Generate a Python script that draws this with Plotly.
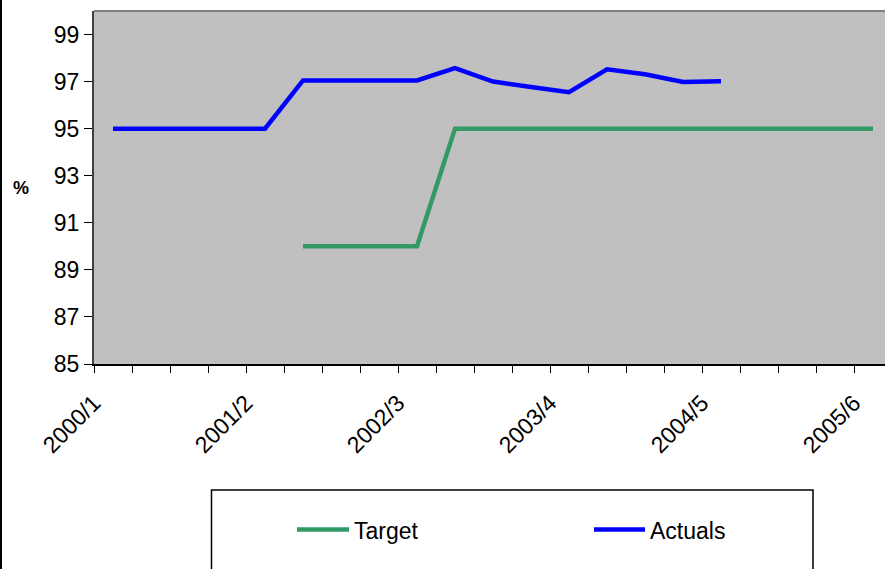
import plotly.graph_objects as go

# Category slots along the x axis (one per period), labelled every 4th slot
n_slots = 21
label_every = 4
tick_labels = ["2000/1", "2001/2", "2002/3", "2003/4", "2004/5", "2005/6"]

# Series values (percent), None where no value is recorded
actuals = [95, 95, 95, 95, 95, 97.05, 97.05, 97.05, 97.05, 97.57,
           97.0, 96.77, 96.55, 97.52, 97.31, 96.98, 97.01]
target = [None, None, None, None, None, 90, 90, 90, 90,
          95, 95, 95, 95, 95, 95, 95, 95, 95, 95, 95, 95]

y_ticks = [85, 87, 89, 91, 93, 95, 97, 99]

W, H = 885, 569
ML, MT, MB = 94, 11, 205
PW = W - ML
PH = H - MT - MB
SLOT = 38.0
FONT = "Arial, Liberation Sans, sans-serif"
LABEL_SHIFT = -0.5  # rotated labels end slightly left of the slot centre


def px(x):
    return (x - ML) / PW


def py(y):
    return (H - MB - y) / PH


x_hi = PW / SLOT - 0.5
slots = list(range(n_slots))

fig = go.Figure()
fig.add_trace(go.Scatter(x=slots[:len(target)], y=target, mode="lines",
                         name="Target", line=dict(color="#339966", width=4.5),
                         connectgaps=False, showlegend=False))
fig.add_trace(go.Scatter(x=slots[:len(actuals)], y=actuals, mode="lines",
                         name="Actuals", line=dict(color="#0000FF", width=4.5),
                         showlegend=False))
# invisible trace that carries the labelled axis
fig.add_trace(go.Scatter(x=[0], y=[None], xaxis="x2", showlegend=False,
                         hoverinfo="skip"))

label_pos = [i * label_every + LABEL_SHIFT for i in range(len(tick_labels))]

fig.update_layout(
    width=W, height=H,
    margin=dict(l=ML, r=0, t=MT, b=MB, pad=0),
    paper_bgcolor="white",
    plot_bgcolor="#C0C0C0",
    font=dict(family=FONT, size=23, color="black"),
    xaxis=dict(range=[-0.5, x_hi], showgrid=False, zeroline=False,
               tickmode="array", tickvals=[k - 0.5 for k in range(n_slots + 1)],
               ticks="outside", ticklen=7, tickcolor="black", tickwidth=1,
               showticklabels=False, showline=True, linecolor="black",
               linewidth=1.5),
    xaxis2=dict(range=[-0.5, x_hi], overlaying="x", side="bottom",
                anchor="y", showgrid=False, zeroline=False,
                tickmode="array", tickvals=label_pos, ticktext=tick_labels,
                ticks="", tickangle=-45, ticklabelstandoff=20,
                tickfont=dict(family=FONT, size=23), showline=False),
    yaxis=dict(range=[85, 100], showgrid=False, zeroline=False,
               tickmode="array", tickvals=y_ticks,
               ticks="outside", ticklen=8, tickcolor="black", tickwidth=1,
               showline=True, linecolor="#404040", linewidth=2,
               tickfont=dict(family=FONT, size=23)),
    showlegend=False,
)

shapes = [
    # plot area top border
    dict(type="line", xref="paper", yref="paper", x0=0, x1=1.02, y0=1, y1=1,
         line=dict(color="#808080", width=2)),
    # chart area left border
    dict(type="line", xref="paper", yref="paper", x0=px(1), x1=px(1),
         y0=py(0), y1=py(H), line=dict(color="black", width=2)),
    # legend frame
    dict(type="rect", xref="paper", yref="paper", x0=px(211.5), x1=px(813),
         y0=py(490), y1=py(H + 5), line=dict(color="black", width=1.5),
         fillcolor="white"),
    # legend swatches
    dict(type="line", xref="paper", yref="paper", x0=px(297), x1=px(349),
         y0=py(529.5), y1=py(529.5), line=dict(color="#339966", width=4.5)),
    dict(type="line", xref="paper", yref="paper", x0=px(594), x1=px(645),
         y0=py(529.5), y1=py(529.5), line=dict(color="#0000FF", width=4.5)),
]
fig.update_layout(shapes=shapes)

fig.add_annotation(xref="paper", yref="paper", x=px(352), y=py(531),
                   text="Target", showarrow=False, xanchor="left",
                   yanchor="middle", font=dict(family=FONT, size=23))
fig.add_annotation(xref="paper", yref="paper", x=px(648), y=py(531),
                   text="Actuals", showarrow=False, xanchor="left",
                   yanchor="middle", font=dict(family=FONT, size=23))
fig.add_annotation(xref="paper", yref="paper", x=px(21), y=py(188),
                   text="<b>%</b>", showarrow=False, xanchor="center",
                   yanchor="middle", font=dict(family=FONT, size=18))

fig.write_html("out.html")
